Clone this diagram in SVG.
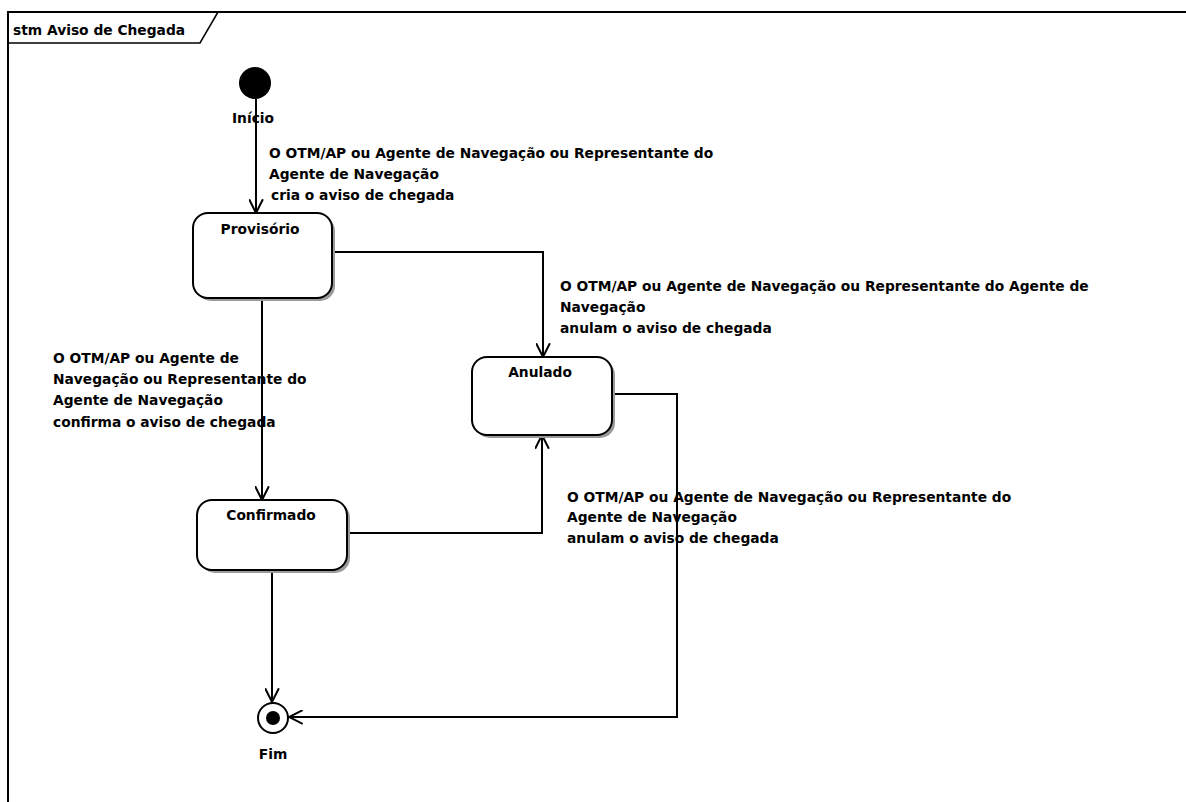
<svg xmlns="http://www.w3.org/2000/svg" width="1186" height="802" viewBox="0 0 1186 802">
<style>
  .t { font-family: "DejaVu Sans", "Liberation Sans", sans-serif; font-weight: bold; font-size: 13.8px; fill: #000; }
  .c { text-anchor: middle; }
  .box { fill: #fff; stroke: #000; stroke-width: 2; }
  .shadow { fill: #9a9a9a; stroke: none; }
  .edge { fill: none; stroke: #000; stroke-width: 2; }
</style>
<defs>
  <marker id="arrow" viewBox="0 0 12 12" refX="11" refY="6" markerWidth="15" markerHeight="15" markerUnits="userSpaceOnUse" orient="auto">
    <path d="M0,0.5 L11,6 L0,11.5" fill="none" stroke="#000" stroke-width="1.6"/>
  </marker>
</defs>
<rect x="0" y="0" width="1186" height="802" fill="#fff"/>

<g id="frame">
  <path d="M8,802 V12 H1186" fill="none" stroke="#000" stroke-width="2"/>
  <path d="M8,43 H200 L218,12" fill="none" stroke="#000" stroke-width="1.5"/>
  <text class="t" x="13" y="35">stm Aviso de Chegada</text>
</g>

<g id="connectors">
  <path class="edge" d="M256,99 V213" marker-end="url(#arrow)"/>
  <path class="edge" d="M332,252 H543 V357" marker-end="url(#arrow)"/>
  <path class="edge" d="M262,298 V500" marker-end="url(#arrow)"/>
  <path class="edge" d="M347,533 H542 V435" marker-end="url(#arrow)"/>
  <path class="edge" d="M612,394 H677 V717 H289" marker-end="url(#arrow)"/>
  <path class="edge" d="M272,570 V702" marker-end="url(#arrow)"/>
</g>

<g id="labels">
  <text class="t" x="269" y="158">O OTM/AP ou Agente de Navegação ou Representante do</text>
  <text class="t" x="269" y="179">Agente de Navegação</text>
  <text class="t" x="271" y="200">cria o aviso de chegada</text>

  <text class="t" x="560" y="291">O OTM/AP ou Agente de Navegação ou Representante do Agente de</text>
  <text class="t" x="560" y="312">Navegação</text>
  <text class="t" x="560" y="333">anulam o aviso de chegada</text>

  <text class="t" x="53" y="363">O OTM/AP ou Agente de</text>
  <text class="t" x="53" y="384">Navegação ou Representante do</text>
  <text class="t" x="53" y="405">Agente de Navegação</text>
  <text class="t" x="53" y="427">confirma o aviso de chegada</text>

  <text class="t" x="567" y="502">O OTM/AP ou Agente de Navegação ou Representante do</text>
  <text class="t" x="567" y="522">Agente de Navegação</text>
  <text class="t" x="567" y="543">anulam o aviso de chegada</text>
</g>

<g id="inicio">
  <circle cx="255" cy="83" r="16" fill="#000"/>
  <text class="t c" x="253" y="123">Início</text>
</g>

<g id="provisorio">
  <rect class="shadow" x="196" y="216" width="139" height="85" rx="15"/>
  <rect class="box" x="193" y="213" width="139" height="85" rx="15"/>
  <text class="t c" x="260" y="234">Provisório</text>
</g>

<g id="anulado">
  <rect class="shadow" x="475" y="360" width="140" height="78" rx="15"/>
  <rect class="box" x="472" y="357" width="140" height="78" rx="15"/>
  <text class="t c" x="540" y="377">Anulado</text>
</g>

<g id="confirmado">
  <rect class="shadow" x="200" y="503" width="150" height="70" rx="15"/>
  <rect class="box" x="197" y="500" width="150" height="70" rx="15"/>
  <text class="t c" x="271" y="520">Confirmado</text>
</g>

<g id="fim">
  <circle cx="273" cy="718" r="15" fill="#fff" stroke="#000" stroke-width="2"/>
  <circle cx="273" cy="718" r="7" fill="#000"/>
  <text class="t c" x="273" y="759">Fim</text>
</g>
</svg>
